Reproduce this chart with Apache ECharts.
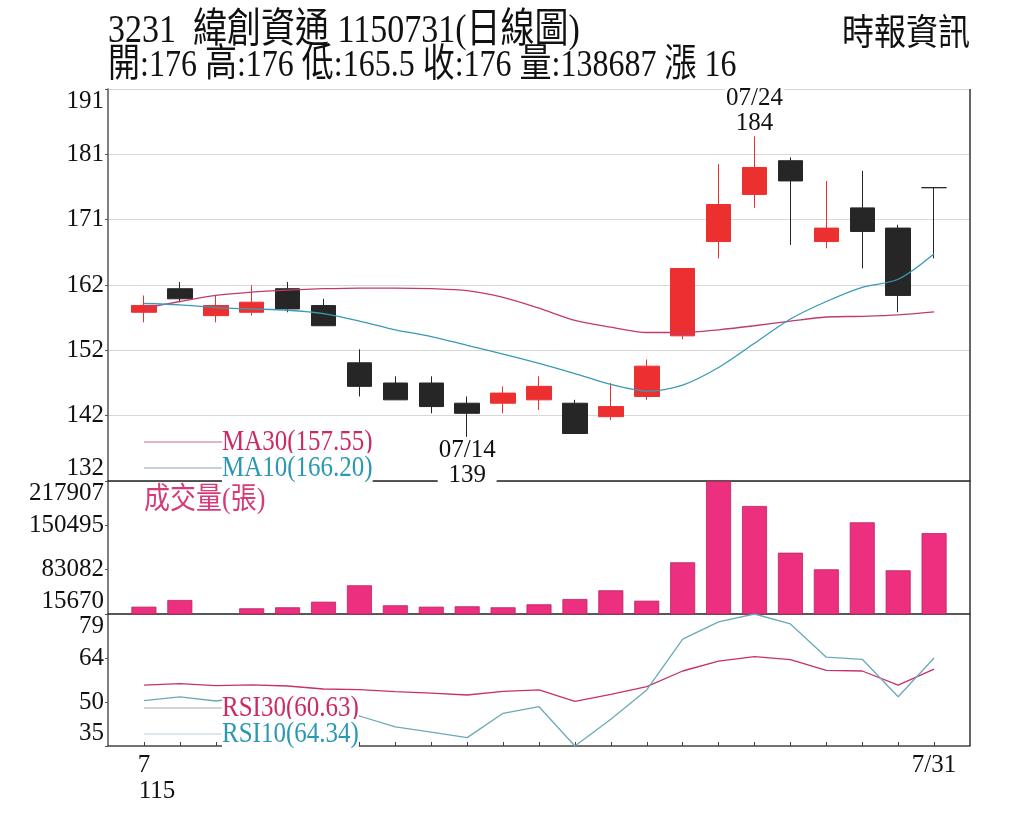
<!DOCTYPE html>
<html>
<head>
<meta charset="utf-8">
<script src="https://cdn.jsdelivr.net/npm/echarts@6/dist/echarts.min.js"></script>
<style>
  html, body { margin: 0; padding: 0; background: #fff; }
  #main { width: 1024px; height: 819px; }
</style>
</head>
<body>
<div id="main"></div>
<script>
// 日期 (115年7月)
var dates = ['07/01', '07/02', '07/03', '07/06', '07/07', '07/08', '07/09', '07/10', '07/13', '07/14', '07/15', '07/16',
  '07/17', '07/20', '07/21', '07/22', '07/23', '07/24', '07/27', '07/28', '07/29', '07/30', '07/31'];
// K線 開/收/低/高
var openData = [157.5, 161, 157, 157.5, 161, 158.5, 150, 147, 147, 144, 144, 144.5, 144, 142, 145, 154, 168, 175, 180, 168, 173, 170, 176];
var closeData = [158.5, 159.5, 158.5, 159, 158, 155.5, 146.5, 144.5, 143.5, 142.5, 145.5, 146.5, 139.5, 143.5, 149.5, 164, 173.5, 179, 177, 170, 169.5, 160, 176];
var lowData = [156, 159, 156, 157, 157.5, 155.5, 145, 144.5, 142.5, 139, 142.5, 143, 139.5, 141.5, 144.5, 153.5, 165.5, 173, 167.5, 167, 164, 157.5, 165.5];
var highData = [160, 162, 160, 161.5, 162, 159.5, 152, 148, 148, 145, 146.5, 148, 144.5, 147, 150.5, 164, 179.5, 184, 180.5, 177, 178.5, 170.5, 176];
// 均線
var ma30 = [158.1, 159.1, 160.0, 160.5, 160.8, 161.0, 161.1, 161.1, 161.0, 160.7, 159.7, 158.1, 156.3, 155.3, 154.5, 154.5, 154.9, 155.5, 156.2, 156.8, 156.9, 157.1, 157.55];
var ma10 = [158.8, 158.6, 158.2, 158.0, 157.8, 157.3, 156.2, 154.9, 153.9, 152.6, 151.3, 149.9, 148.4, 146.8, 145.8, 146.7, 149.3, 152.9, 156.5, 159.1, 161.2, 162.4, 166.2];
// 成交量(張)
var volumes = [26770, 36960, 15670, 24340, 25860, 34370, 59310, 28900, 26770, 27380, 25860, 30420, 38480, 51710, 35890, 94280, 217907, 179890, 108880, 83640, 155100, 82120, 138687];
// RSI
var rsi30 = [55.3, 55.8, 55.1, 55.4, 55.0, 54.0, 53.8, 53.1, 52.6, 52.0, 53.2, 53.7, 49.9, 52.2, 54.8, 60.0, 63.3, 64.8, 63.8, 60.2, 60.0, 55.3, 60.63];
var rsi10 = [50.1, 51.4, 50.0, 51.5, 49.5, 47.5, 45.0, 41.4, 39.6, 37.8, 45.9, 48.1, 35.0, 43.9, 53.7, 70.6, 76.4, 79.0, 75.7, 64.6, 63.9, 51.4, 64.34];
// 刻度標籤
var priceTicks = [132, 142, 152, 162, 171, 181, 191];
var volTicks = [15670, 83082, 150495, 217907];
var rsiTicks = [35, 50, 64, 79];
var priceMin = 132.45, priceMax = 190.65, priceStep = 9.7;
var volMin = 15670, volMax = 217907;
var rsiMin = 35, rsiMax = 79;

var SERIF = '"Liberation Serif", "Noto Sans CJK TC", serif';
var upColor = '#ec3030';
var downColor = '#262626';

// 前後各補一格空位
function pad(arr) {
  return ['-'].concat(arr).concat(['-']);
}
var cats = [''].concat(dates).concat(['']);
var kData = ['-'];
for (var i = 0; i < dates.length; i++) {
  kData.push([openData[i], closeData[i], lowData[i], highData[i]]);
}
kData.push('-');

function tickFmt(list) {
  return function (v, idx) {
    return list[idx] !== undefined ? String(list[idx]) : String(Math.round(v));
  };
}

var chart = echarts.init(document.getElementById('main'));

var axisLabelBase = {
  fontFamily: SERIF,
  fontSize: 25,
  color: '#111',
  margin: 4,
  verticalAlignMinLabel: 'bottom',
  verticalAlignMaxLabel: 'top'
};

function legendItem(y, lineColor, text, textColor) {
  return [{
    type: 'line',
    z: 100,
    shape: { x1: 144, y1: y, x2: 222, y2: y },
    style: { stroke: lineColor, lineWidth: 1.2 }
  }, {
    type: 'text',
    z: 101,
    x: 222,
    y: y,
    scaleY: 1.2,
    style: {
      text: text,
      font: '25px ' + SERIF,
      fill: textColor,
      align: 'left', textAlign: 'left',
      verticalAlign: 'middle', textVerticalAlign: 'middle',
      backgroundColor: '#fff'
    }
  }];
}

var graphics = [
  {
    type: 'text', z: 100, x: 108, y: 31, scaleY: 1.2,
    style: {
      text: '3231  緯創資通 1150731(日線圖)', font: '34px ' + SERIF, fill: '#111',
      align: 'left', textAlign: 'left', verticalAlign: 'middle', textVerticalAlign: 'middle'
    }
  },
  {
    type: 'text', z: 100, x: 108, y: 66, scaleY: 1.2,
    style: {
      text: '開:176 高:176 低:165.5 收:176 量:138687 漲 16', font: '32px ' + SERIF, fill: '#111',
      align: 'left', textAlign: 'left', verticalAlign: 'middle', textVerticalAlign: 'middle'
    }
  },
  {
    type: 'text', z: 100, x: 970, y: 35, scaleY: 1.15,
    style: {
      text: '時報資訊', font: '32px ' + SERIF, fill: '#111',
      align: 'right', textAlign: 'right', verticalAlign: 'middle', textVerticalAlign: 'middle'
    }
  },
  {
    type: 'line', z: 50,
    shape: { x1: 970, y1: 89, x2: 970, y2: 746 },
    style: { stroke: '#333', lineWidth: 1.5 }
  },
  {
    type: 'text', z: 100, x: 144, y: 500, scaleY: 1.15,
    style: {
      text: '成交量(張)', font: '26px ' + SERIF, fill: '#d63a78',
      align: 'left', textAlign: 'left', verticalAlign: 'middle', textVerticalAlign: 'middle'
    }
  }
];
graphics = graphics
  .concat(legendItem(442, '#c86a8a', 'MA30(157.55)', '#cc2a64'))
  .concat(legendItem(468, '#8aa6b4', 'MA10(166.20)', '#2a98b2'))
  .concat(legendItem(708, '#a8a8a8', 'RSI30(60.63)', '#cc2a64'))
  .concat(legendItem(734, '#bcd2da', 'RSI10(64.34)', '#2a98b2'));

var option = {
  backgroundColor: '#fff',
  animation: false,
  grid: [
    { left: 108, right: 54, top: 89, height: 392 },
    { left: 108, right: 54, top: 481, height: 133 },
    { left: 108, right: 54, top: 614, height: 132 }
  ],
  xAxis: [
    {
      type: 'category', gridIndex: 0, data: cats, boundaryGap: false,
      axisLine: { lineStyle: { color: '#222', width: 1.5 } },
      axisTick: { show: false }, axisLabel: { show: false }, splitLine: { show: false }
    },
    {
      type: 'category', gridIndex: 1, data: cats, boundaryGap: false,
      axisLine: { lineStyle: { color: '#222', width: 1.5 } },
      axisTick: { show: false }, axisLabel: { show: false }, splitLine: { show: false }
    },
    {
      type: 'category', gridIndex: 2, data: cats, boundaryGap: false,
      axisLine: { lineStyle: { color: '#444', width: 1.5 } },
      axisTick: {
        show: true, inside: true, length: 4, lineStyle: { color: '#444' },
        interval: function (idx) { return idx > 0 && idx < cats.length - 1; }
      },
      axisLabel: {
        show: true, interval: 0, fontFamily: SERIF, fontSize: 25, color: '#111', margin: 6,
        lineHeight: 26,
        formatter: function (v, idx) {
          if (idx === 1) return '{a|7}\n{b|115}';
          if (idx === cats.length - 2) return '{a|7/31}';
          return '';
        },
        rich: {
          a: { fontFamily: SERIF, fontSize: 25, color: '#111', lineHeight: 26 },
          b: { fontFamily: SERIF, fontSize: 25, color: '#111', lineHeight: 26, padding: [0, 0, 0, 26] }
        }
      },
      splitLine: { show: false }
    }
  ],
  yAxis: [
    {
      type: 'value', gridIndex: 0, min: priceMin, max: priceMax, interval: priceStep,
      axisLine: { show: true, lineStyle: { color: '#555', width: 1.5 } },
      axisTick: { show: true, length: 3, lineStyle: { color: '#555' } },
      axisLabel: Object.assign({}, axisLabelBase, { formatter: tickFmt(priceTicks) }),
      splitLine: { show: true, lineStyle: { color: '#d8d8d8', width: 1.2 } }
    },
    {
      type: 'value', gridIndex: 1, min: volMin, max: volMax, interval: (volMax - volMin) / 3,
      axisLine: { show: true, lineStyle: { color: '#555', width: 1.5 } },
      axisTick: { show: true, length: 3, lineStyle: { color: '#555' } },
      axisLabel: Object.assign({}, axisLabelBase, { formatter: tickFmt(volTicks) }),
      splitLine: { show: false }
    },
    {
      type: 'value', gridIndex: 2, min: rsiMin, max: rsiMax, interval: (rsiMax - rsiMin) / 3,
      axisLine: { show: true, lineStyle: { color: '#555', width: 1.5 } },
      axisTick: { show: true, length: 3, lineStyle: { color: '#555' } },
      axisLabel: Object.assign({}, axisLabelBase, { formatter: tickFmt(rsiTicks) }),
      splitLine: { show: false }
    }
  ],
  series: [
    {
      name: 'K', type: 'candlestick', xAxisIndex: 0, yAxisIndex: 0,
      data: kData, barWidth: 25, z: 3,
      itemStyle: {
        color: upColor, color0: downColor,
        borderColor: upColor, borderColor0: downColor,
        borderColorDoji: downColor, borderWidth: 1
      },
      markPoint: {
        symbol: 'rect', symbolSize: 1,
        itemStyle: { color: 'rgba(0,0,0,0)' },
        label: {
          show: true, color: '#111', fontFamily: SERIF, fontSize: 25, lineHeight: 25,
          backgroundColor: '#fff', padding: [0, 1, 0, 1]
        },
        data: [
          { coord: ['07/14', 139], value: 139, label: { position: 'bottom', distance: 1, formatter: '07/14\n139' } },
          { coord: ['07/24', 184], value: 184, label: { position: 'top', distance: -3, formatter: '07/24\n184' } }
        ]
      }
    },
    {
      name: 'MA30', type: 'line', xAxisIndex: 0, yAxisIndex: 0, data: pad(ma30),
      smooth: 0.3, showSymbol: false, z: 4,
      lineStyle: { color: '#c23a6c', width: 1.3 }
    },
    {
      name: 'MA10', type: 'line', xAxisIndex: 0, yAxisIndex: 0, data: pad(ma10),
      smooth: 0.3, showSymbol: false, z: 4,
      lineStyle: { color: '#3a9ab6', width: 1.3 }
    },
    {
      name: 'VOL', type: 'bar', xAxisIndex: 1, yAxisIndex: 1, data: pad(volumes),
      barWidth: 25, barMinHeight: 1,
      itemStyle: { color: '#ec2f7e', borderColor: '#b8245f', borderWidth: 0.8 }
    },
    {
      name: 'RSI30', type: 'line', xAxisIndex: 2, yAxisIndex: 2, data: pad(rsi30),
      showSymbol: false, lineStyle: { color: '#c83068', width: 1.3 }
    },
    {
      name: 'RSI10', type: 'line', xAxisIndex: 2, yAxisIndex: 2, data: pad(rsi10),
      showSymbol: false, lineStyle: { color: '#6aaab8', width: 1.3 }
    }
  ],
  graphic: graphics
};

chart.setOption(option);
</script>
</body>
</html>
